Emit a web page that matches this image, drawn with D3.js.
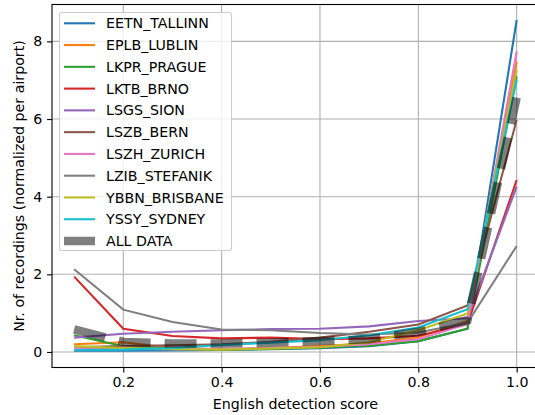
<!DOCTYPE html>
<html lang="en">
<head>
  <meta charset="UTF-8">
  <title>English detection score</title>
  <script src="https://d3js.org/d3.v7.min.js"></script>
  <style>
    body { margin: 0; background: #fff; }
    svg { display: block; font-family: 'DejaVu Sans', sans-serif; }
  </style>
</head>
<body>
  <svg></svg>
  <script>
    // detection score bins
    const scores = [0.1, 0.2, 0.3, 0.4, 0.5, 0.6, 0.7, 0.8, 0.9, 1.0];

    const airports = ["EETN_TALLINN", "EPLB_LUBLIN", "LKPR_PRAGUE", "LKTB_BRNO", "LSGS_SION",
      "LSZB_BERN", "LSZH_ZURICH", "LZIB_STEFANIK", "YBBN_BRISBANE", "YSSY_SYDNEY"];

    const eetn = [0.03, 0.03, 0.04, 0.05, 0.07, 0.10, 0.15, 0.28, 0.60, 8.55];
    const eplb = [0.20, 0.25, 0.10, 0.07, 0.10, 0.15, 0.22, 0.38, 0.80, 7.48];
    const lkpr = [0.43, 0.15, 0.08, 0.06, 0.08, 0.11, 0.16, 0.28, 0.60, 7.10];
    const lktb = [1.94, 0.60, 0.41, 0.35, 0.37, 0.33, 0.35, 0.42, 0.72, 4.43];
    const lsgs = [0.37, 0.47, 0.52, 0.56, 0.59, 0.60, 0.66, 0.80, 0.87, 4.26];
    const lszb = [0.12, 0.15, 0.17, 0.20, 0.26, 0.37, 0.52, 0.71, 1.20, 5.98];
    const lszh = [0.11, 0.08, 0.07, 0.08, 0.10, 0.13, 0.20, 0.33, 0.72, 7.74];
    const lzib = [2.13, 1.09, 0.77, 0.58, 0.56, 0.49, 0.45, 0.50, 0.75, 2.73];
    const ybbn = [0.15, 0.10, 0.07, 0.06, 0.09, 0.12, 0.25, 0.56, 0.99, 7.27];
    const yssy = [0.05, 0.06, 0.10, 0.18, 0.24, 0.30, 0.43, 0.63, 1.10, 7.01];
    const allData = [0.58, 0.26, 0.22, 0.22, 0.24, 0.28, 0.33, 0.52, 0.82, 6.55];

    const series = [eetn, eplb, lkpr, lktb, lsgs, lszb, lszh, lzib, ybbn, yssy];

    const xTicks = [0.2, 0.4, 0.6, 0.8, 1.0];
    const yTicks = [0, 2, 4, 6, 8];

    const colors = ["#1f77b4", "#ff7f0e", "#2ca02c", "#d62728", "#9467bd",
      "#8c564b", "#e377c2", "#7f7f7f", "#bcbd22", "#17becf"];

    const width = 535, height = 415;
    const plotL = 52, plotR = 538.8, plotT = 4.5, plotB = 367.5;
    const fs = 14.2;

    const svg = d3.select("svg").attr("width", width).attr("height", height);

    const x = d3.scaleLinear().domain([0.055, 1.045]).range([plotL, plotR]);
    const y = d3.scaleLinear().domain([-0.4, 8.95]).range([plotB, plotT]);

    svg.append("defs").append("clipPath").attr("id", "clip")
      .append("rect").attr("x", plotL).attr("y", plotT)
      .attr("width", plotR - plotL).attr("height", plotB - plotT);

    // grid
    const grid = svg.append("g").attr("stroke", "#b0b0b0").attr("stroke-width", 1.1);
    grid.selectAll(".gx").data(xTicks).join("line")
      .attr("x1", d => x(d)).attr("x2", d => x(d))
      .attr("y1", plotT).attr("y2", plotB);
    grid.selectAll(".gy").data(yTicks).join("line")
      .attr("x1", plotL).attr("x2", plotR)
      .attr("y1", d => y(d)).attr("y2", d => y(d));

    const line = d3.line().x((d, i) => x(scores[i])).y(d => y(d));

    const plot = svg.append("g").attr("clip-path", "url(#clip)");
    series.forEach((s, i) => {
      plot.append("path").datum(s)
        .attr("d", line)
        .attr("fill", "none")
        .attr("stroke", colors[i])
        .attr("stroke-width", 2.08);
    });

    plot.append("path").datum(allData)
      .attr("d", line)
      .attr("fill", "none")
      .attr("stroke", "#000")
      .attr("stroke-opacity", 0.5)
      .attr("stroke-width", 8.5)
      .attr("stroke-dasharray", "32,14");

    // axes
    const xAxis = svg.append("g").attr("transform", `translate(0,${plotB})`)
      .call(d3.axisBottom(x).tickValues(xTicks).tickFormat(d3.format(".1f")).tickSizeOuter(0).tickSize(4.9).tickPadding(4.9));
    const yAxis = svg.append("g").attr("transform", `translate(${plotL},0)`)
      .call(d3.axisLeft(y).tickValues(yTicks).tickFormat(d3.format("d")).tickSizeOuter(0).tickSize(4.9).tickPadding(4.9));

    [xAxis, yAxis].forEach(a => {
      a.select(".domain").remove();
      a.selectAll("line").attr("stroke", "#000").attr("stroke-width", 1.1);
      a.selectAll("text").attr("font-size", fs).attr("fill", "#000")
        .attr("font-family", "'DejaVu Sans', sans-serif");
    });

    // spines
    svg.append("rect").attr("x", plotL).attr("y", plotT)
      .attr("width", plotR - plotL).attr("height", plotB - plotT)
      .attr("fill", "none").attr("stroke", "#000").attr("stroke-width", 1.1);

    svg.append("text").attr("x", (plotL + plotR) / 2).attr("y", 409)
      .attr("text-anchor", "middle").attr("font-size", fs)
      .text("English detection score");

    svg.append("text")
      .attr("transform", `translate(24,${(plotT + plotB) / 2}) rotate(-90)`)
      .attr("text-anchor", "middle").attr("font-size", fs)
      .text("Nr. of recordings (normalized per airport)");

    // legend
    const lg = svg.append("g");
    lg.append("rect").attr("x", 59.5).attr("y", 12.5).attr("width", 172).attr("height", 238)
      .attr("rx", 2.5).attr("fill", "#fff").attr("fill-opacity", 0.8)
      .attr("stroke", "#cccccc").attr("stroke-width", 1.1);

    const items = airports.map((name, i) => ({ name, color: colors[i], w: 2.08, op: 1 }))
      .concat([{ name: "ALL DATA", color: "#000", w: 8.5, op: 0.5 }]);

    const rowY = i => 23.3 + i * 21.77;
    items.forEach((it, i) => {
      lg.append("line").attr("x1", 64).attr("x2", 95)
        .attr("y1", rowY(i)).attr("y2", rowY(i))
        .attr("stroke", it.color).attr("stroke-width", it.w).attr("stroke-opacity", it.op);
      lg.append("text").attr("x", 106).attr("y", rowY(i)).attr("dy", "0.36em")
        .attr("font-size", fs).text(it.name);
    });
  </script>
</body>
</html>
